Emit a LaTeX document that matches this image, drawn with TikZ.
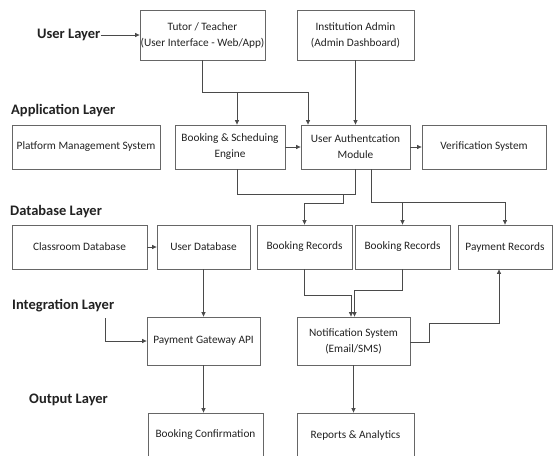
\documentclass[tikz,border=0pt]{standalone}
\usepackage{fontspec}
\setmainfont{Carlito}
\usetikzlibrary{arrows.meta}
\definecolor{boxc}{HTML}{666666}
\definecolor{linec}{HTML}{4A4A4A}
\definecolor{txtc}{HTML}{222222}
\begin{document}
\begin{tikzpicture}[x=1pt,y=-1pt,
  box/.style={draw=boxc, line width=0.8pt, rectangle, align=center, text=txtc,
    inner sep=0pt, font=\fontsize{11.3}{16}\selectfont},
  lay/.style={anchor=west, text=txtc, inner sep=0pt, font=\fontsize{14.5}{16}\selectfont\bfseries},
  ln/.style={draw=linec, line width=0.7pt},
  arr/.style={ln, -{Triangle[length=4.5pt,width=4pt]}}]
\useasboundingbox (0,0) rectangle (553,455);
\clip (0,0) rectangle (553,455);
\fill[white] (0,0) rectangle (553,455);
% layer labels
\node[lay] (ul) at (37,35) {User Layer};
\node[lay] (al) at (11,111) {Application Layer};
\node[lay] (dl) at (10,212) {Database Layer};
\node[lay] (il) at (12,306) {Integration Layer};
\node[lay] (ol) at (29,400) {Output Layer};
% boxes
\node[box, minimum width=125, minimum height=50] (tutor) at (202.5,35) {Tutor / Teacher\\(User Interface - Web/App)};
\node[box, minimum width=117, minimum height=50] (admin) at (355.5,35) {Institution Admin\\(Admin Dashboard)};
\node[box, minimum width=148, minimum height=44] (pms) at (86,147) {Platform Management System};
\node[box, minimum width=110, minimum height=44] (bse) at (230,147) {Booking \& Scheduing\\Engine};
\node[box, minimum width=109, minimum height=44] (uam) at (355.5,147) {User Authentcation\\Module};
\node[box, minimum width=124, minimum height=44] (ver) at (484,147) {Verification System};
\node[box, minimum width=135, minimum height=44] (cdb) at (79.5,247) {Classroom Database};
\node[box, minimum width=93, minimum height=44] (udb) at (203.5,247) {User Database};
\node[box, minimum width=95, minimum height=44] (br1) at (304.5,247) {Booking Records};
\node[box, minimum width=95, minimum height=44] (br2) at (402.5,247) {Booking Records};
\node[box, minimum width=94, minimum height=44] (pr) at (505,247) {Payment Records};
\node[box, minimum width=113, minimum height=48] (pg) at (203.5,341) {Payment Gateway API};
\node[box, minimum width=113, minimum height=48] (ns) at (353.5,341) {Notification System\\(Email/SMS)};
\node[box, minimum width=115, minimum height=44] (bc) at (205.5,435) {Booking Confirmation};
\node[box, minimum width=117, minimum height=44] (ra) at (355.5,435) {Reports \& Analytics};
\coordinate (free) at (105,318);
% connectors
\draw[arr] (ul.east) -- (tutor.west);
\draw[arr] (tutor.south) -- (tutor.south |- 0,92) -| ([xshift=-47.5pt]uam.north);
\draw[arr] ([xshift=7pt]bse.north |- 0,92) -- ([xshift=7pt]bse.north);
\draw[arr] (admin.south) -- (uam.north);
\draw[arr] (bse.east) -- (uam.west);
\draw[arr] (uam.east) -- (ver.west);
\draw[ln] ([xshift=7pt]bse.south) |- (uam.south |- 0,194) -- (uam.south);
\draw[arr] (343,194) |- (br1.north |- 0,203) -- (br1.north);
\draw[arr] ([xshift=15.5pt]uam.south) |- (pr.north |- 0,202) -- (pr.north);
\draw[arr] (br2.north |- 0,202) -- (br2.north);
\draw[arr] (cdb.east) -- (udb.west);
\draw[arr] (udb.south) -- (pg.north);
\draw[arr] (br1.south) |- ([xshift=-2.5pt]ns.north |- 0,295) -- ([xshift=-2.5pt]ns.north);
\draw[arr] (br2.south) |- ([xshift=1pt]ns.north |- 0,290) -- ([xshift=1pt]ns.north);
\draw[arr] (free) |- (pg.west);
\draw[arr] ([yshift=-1.5pt]ns.east) -- ([yshift=-1.5pt]ns.east -| 429,0) |- ([xshift=-6pt]pr.south |- 0,323) -- ([xshift=-6pt]pr.south);
\draw[arr] (pg.south) -- (pg.south |- bc.north);
\draw[arr] (ns.south) -- (ns.south |- ra.north);
\end{tikzpicture}
\end{document}
